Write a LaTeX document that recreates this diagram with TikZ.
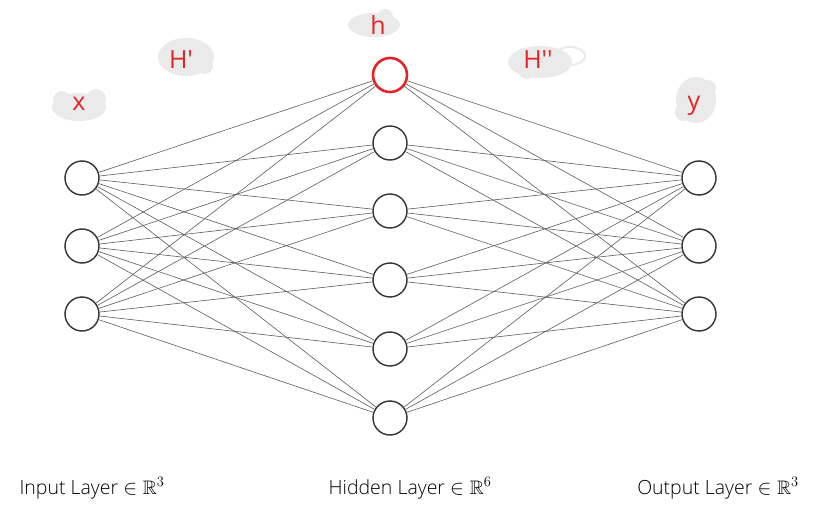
\documentclass[tikz,border=0pt]{standalone}
\usepackage{fontspec}
\usepackage{amssymb}
\setmainfont{Open Sans}[UprightFont=* Light]
\newfontfamily\handfont{Open Sans}
\definecolor{hred}{HTML}{E3242B}
\definecolor{blobgray}{HTML}{EAEAEA}
\definecolor{edgegray}{HTML}{5A5A5A}
\definecolor{ringgray}{HTML}{333333}
\begin{document}
\begin{tikzpicture}[x=1pt,y=-1pt,
  neuron/.style={circle,draw=ringgray,line width=1.4pt,fill=white,minimum size=34pt,inner sep=0pt},
  redneuron/.style={neuron,draw=hred,line width=2.6pt},
  conn/.style={draw=edgegray,line width=0.6pt},
  blob/.style={fill=blobgray,draw=none},
  hand/.style={text=hred,font=\handfont\fontsize{25}{25}\selectfont,inner sep=0pt},
  layerlabel/.style={font=\fontsize{19.5}{24}\selectfont,inner sep=0pt,anchor=base}]
\useasboundingbox (0,0) rectangle (831,530);
% blobs
\fill[blob] (79,107) ellipse [x radius=27,y radius=14];
\fill[blob] (62,100) circle (9);
\fill[blob] (96,99) circle (10);
\fill[blob] (186,57) ellipse [x radius=28,y radius=19];
\fill[blob] (205,66) circle (8);
\fill[blob] (374,25) ellipse [x radius=26,y radius=12];
\fill[blob] (385,17) circle (8);
\fill[blob] (540,62) ellipse [x radius=32,y radius=16];
\fill[blob] (527,70) circle (9);
\draw[blob,draw=blobgray,fill=none,line width=2pt] (570,56) ellipse [x radius=15,y radius=9];
\fill[blob] (696,100) ellipse [x radius=20,y radius=23];
\fill[blob] (684,112) circle (9);
\fill[blob] (708,88) circle (8);
% hand labels
\node[hand] (lx) at (79,104) {x};
\node[hand] (lH1) at (181,60) {H'};
\node[hand] (lh) at (378,25) {h};
\node[hand] (lH2) at (538,60) {H''};
\node[hand] (ly) at (694,106) {y};
% neurons
\foreach \i/\y in {1/178,2/246,3/314} {
  \node[neuron] (i\i) at (82,\y) {};
  \node[neuron] (o\i) at (699,\y) {};
}
\node[redneuron] (h1) at (390,75) {};
\foreach \i/\y in {2/143,3/211,4/280,5/349,6/418} {
  \node[neuron] (h\i) at (390,\y) {};
}
\foreach \a in {1,2,3} {
  \foreach \b in {1,...,6} {
    \draw[conn] (i\a) -- (h\b);
    \draw[conn] (h\b) -- (o\a);
  }
}
% labels
\node[layerlabel] (li) at (92,494) {Input Layer $\in\mathbb{R}^3$};
\node[layerlabel] (lhid) at (410,494) {Hidden Layer $\in\mathbb{R}^6$};
\node[layerlabel] (lo) at (718,494) {Output Layer $\in\mathbb{R}^3$};
\end{tikzpicture}
\end{document}
